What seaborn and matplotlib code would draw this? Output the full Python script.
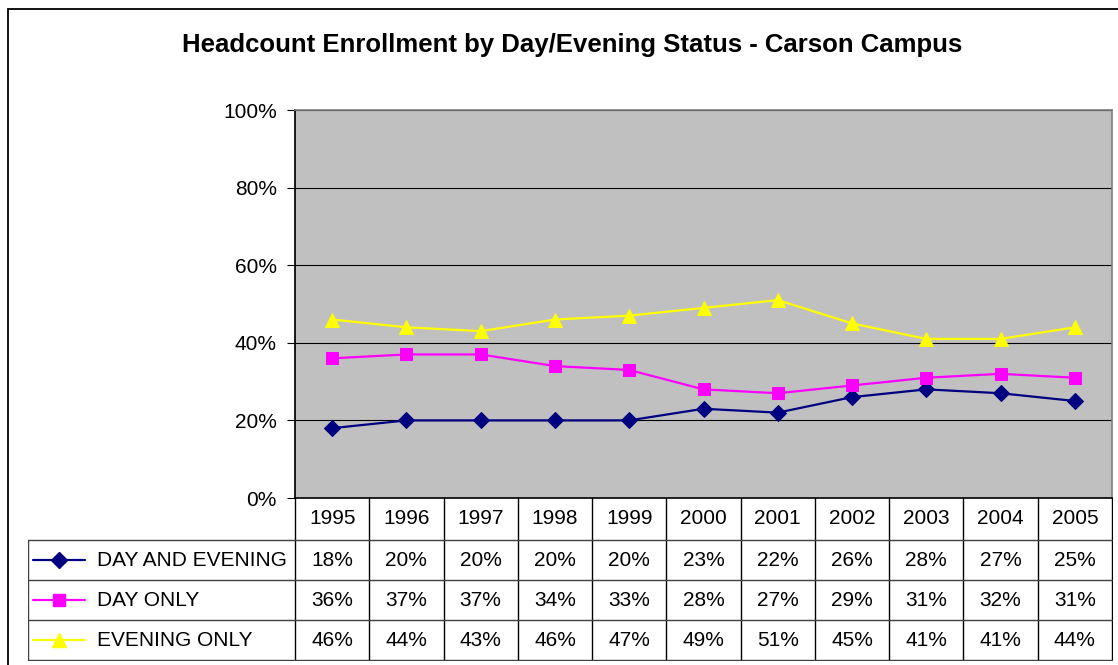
"""
Headcount enrollment by day/evening status - Carson campus
"""

import matplotlib.pyplot as plt
import matplotlib.lines as mlines
import matplotlib.patches as mpatches
import pandas as pd
import seaborn as sns

ANNEES = [1995, 1996, 1997, 1998, 1999, 2000, 2001, 2002, 2003, 2004, 2005]
SERIES = ["DAY AND EVENING", "DAY ONLY", "EVENING ONLY"]
jour_et_soir = [18, 20, 20, 20, 20, 23, 22, 26, 28, 27, 25]
jour_seul = [36, 37, 37, 34, 33, 28, 27, 29, 31, 32, 31]
soir_seul = [46, 44, 43, 46, 47, 49, 51, 45, 41, 41, 44]
TITRE = "Headcount Enrollment by Day/Evening Status - Carson Campus"

COULEURS = ["#000080", "#FF00FF", "#FFFF00"]
MARQUEURS = ["D", "s", "^"]
TAILLES = [8.5, 8.5, 10.5]

valeurs = [jour_et_soir, jour_seul, soir_seul]
df = pd.DataFrame({
    "annee": ANNEES * 3,
    "serie": [s for s in SERIES for _ in ANNEES],
    "valeur": jour_et_soir + jour_seul + soir_seul,
})

sns.set_theme(style="white")
plt.rcParams["font.family"] = ["Liberation Sans", "DejaVu Sans"]
plt.rcParams["text.color"] = "black"
plt.rcParams["ytick.color"] = "black"
plt.rcParams["ytick.labelcolor"] = "black"

W, H = 1118, 665
fig = plt.figure(figsize=(W / 100, H / 100), dpi=100)
fig.patch.set_facecolor("white")


def px(x0, y0, x1, y1):
    # coins en pixels (haut-gauche) -> rect matplotlib
    return [x0 / W, 1 - y1 / H, (x1 - x0) / W, (y1 - y0) / H]


# cadre du graphique
fig.patches.append(mpatches.Rectangle((8 / W, -0.1), 2, 1 - 9 / H + 0.1,
                                      transform=fig.transFigure, fill=False,
                                      edgecolor="black", linewidth=1.3))

# zone de tracé
X0, X1, Y0, Y1 = 295, 1112, 110, 498
ax = fig.add_axes(px(X0, Y0, X1, Y1))
ax.set_facecolor("#C0C0C0")
for i, serie in enumerate(SERIES):
    sns.lineplot(data=df[df["serie"] == serie], x="annee", y="valeur",
                 color=COULEURS[i], marker=MARQUEURS[i], markersize=TAILLES[i],
                 markeredgecolor=COULEURS[i], linewidth=1.6, ax=ax, legend=False)

ax.set_xlim(ANNEES[0] - 0.5, ANNEES[-1] + 0.5)
ax.set_ylim(0, 100)
ax.set_yticks([0, 20, 40, 60, 80, 100])
ax.set_yticklabels([f"{v}%" for v in range(0, 101, 20)], fontsize=15)
ax.set_xticks([])
ax.set_xlabel("")
ax.set_ylabel("")
ax.grid(axis="y", color="black", linewidth=0.8)
ax.tick_params(axis="y", left=True, length=6, width=0.8, color="black", pad=7)
for cote in ["top", "right"]:
    ax.spines[cote].set_color("#808080")
    ax.spines[cote].set_linewidth(1.2)
ax.spines["left"].set_color("black")
ax.spines["bottom"].set_color("black")
ax.spines["bottom"].set_linewidth(1.2)

# table des données
TX0 = 28
tab = fig.add_axes(px(TX0, Y1, X1 + 1, 661))
tab.set_xlim(TX0, X1 + 1)
tab.set_ylim(661, Y1)
tab.axis("off")

largeur = (X1 - X0) / len(ANNEES)
lignes_y = [Y1, 540, 580, 620, 660]
for i in range(len(ANNEES) + 1):
    x = X0 + i * largeur
    tab.plot([x, x], [Y1, 660], color="black", linewidth=1)
for y in lignes_y[1:]:
    tab.plot([TX0, X1], [y, y], color="#404040", linewidth=1)
tab.plot([TX0, TX0], [540, 660], color="#404040", linewidth=1)

for j, annee in enumerate(ANNEES):
    xc = X0 + (j + 0.5) * largeur
    tab.text(xc, (Y1 + 540) / 2, str(annee), ha="center", va="center", fontsize=15)
    for i in range(len(SERIES)):
        yc = (lignes_y[i + 1] + lignes_y[i + 2]) / 2
        tab.text(xc, yc, f"{valeurs[i][j]}%", ha="center", va="center", fontsize=15)

for i, serie in enumerate(SERIES):
    yc = (lignes_y[i + 1] + lignes_y[i + 2]) / 2
    tab.add_line(mlines.Line2D([33, 59, 85], [yc, yc, yc], color=COULEURS[i], linewidth=1.6,
                               marker=MARQUEURS[i], markevery=[1], markersize=TAILLES[i]))
    tab.text(97, yc, serie, ha="left", va="center", fontsize=15)

fig.text(572 / W, 1 - 45 / H, TITRE, ha="center", va="center",
         fontsize=18.5, fontweight="bold")

plt.savefig("out.png", dpi=100)
